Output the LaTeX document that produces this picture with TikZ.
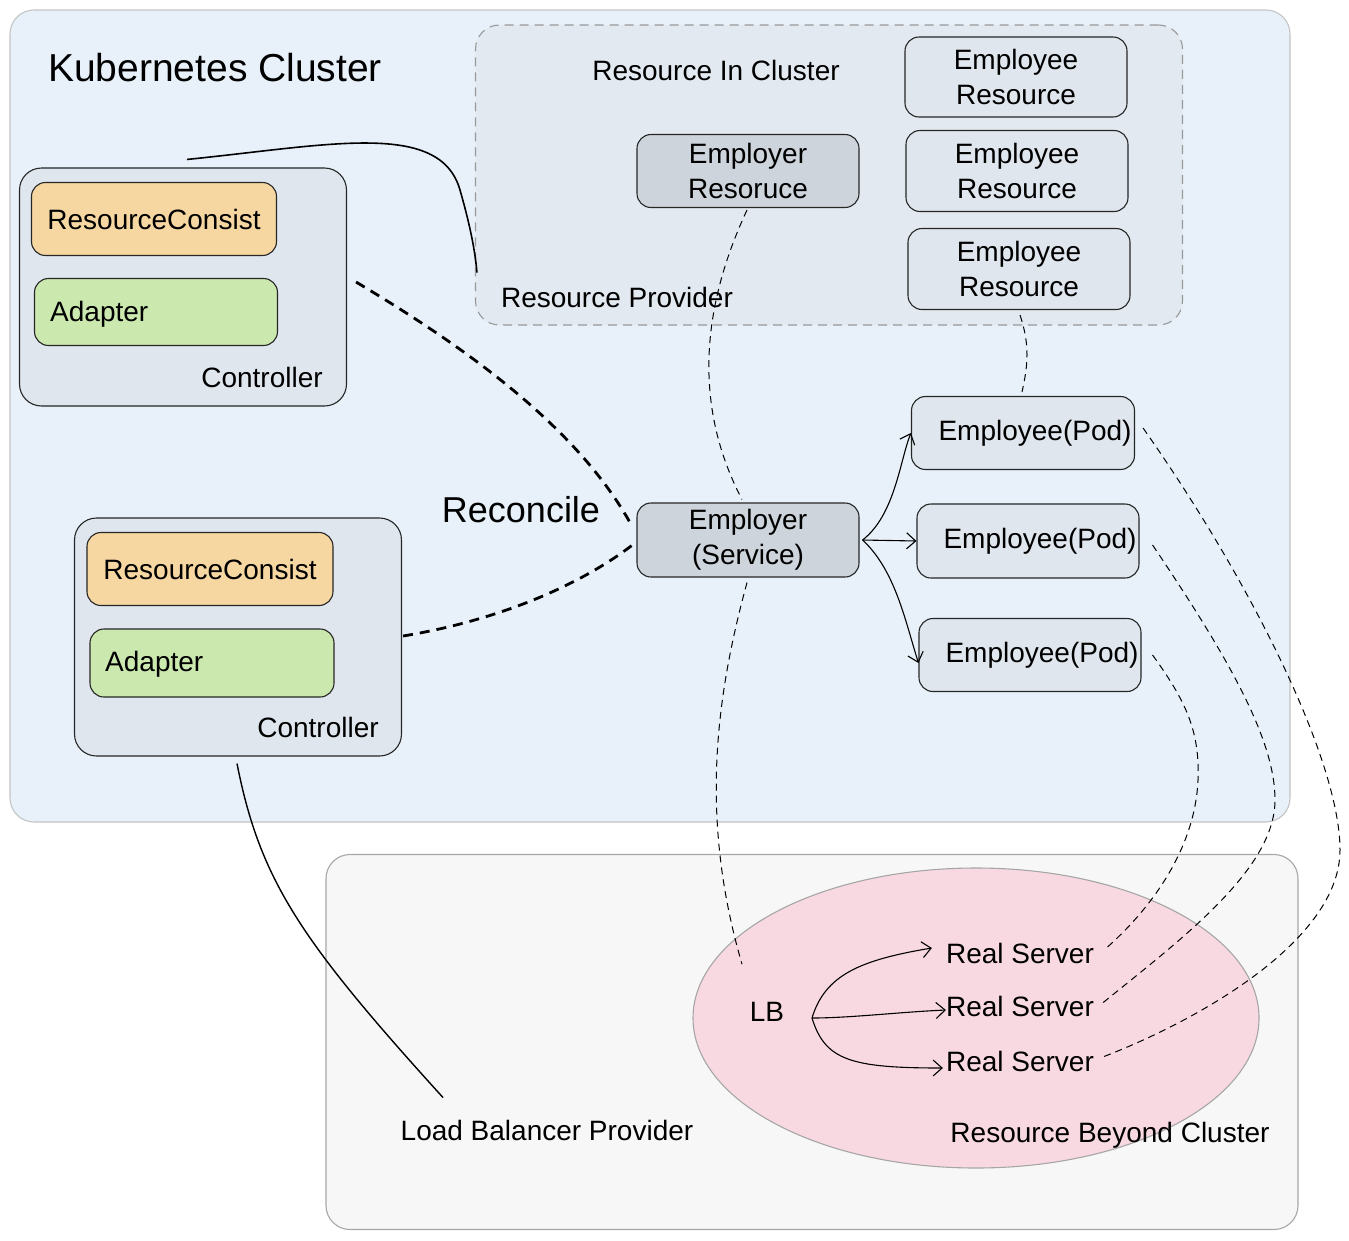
\documentclass[tikz,border=0pt]{standalone}
\usepackage{fontspec}
\setmainfont{Liberation Sans}
\usetikzlibrary{arrows.meta,shapes.geometric}
\definecolor{clusterfill}{HTML}{E8F1FA}
\definecolor{ripfill}{HTML}{E2E9F0}
\definecolor{boxfill}{HTML}{DFE6ED}
\definecolor{darkfill}{HTML}{CDD4DB}
\definecolor{orangefill}{HTML}{F6D7A2}
\definecolor{greenfill}{HTML}{CBE8AE}
\definecolor{lbpfill}{HTML}{F7F7F7}
\definecolor{pinkfill}{HTML}{F8D9E1}
\definecolor{frame}{HTML}{C4C4C4}
\begin{document}
\begin{tikzpicture}[x=1pt,y=-1pt,
  txt/.style={font=\fontsize{28}{35}\selectfont, inner sep=0pt, align=center},
  box/.style={draw=black!85, line width=1.1pt, rounded corners=14pt, fill=boxfill, inner sep=0pt, txt},
  area/.style={draw=frame, line width=1.1pt, rounded corners=24pt},
  conn/.style={draw=black, line width=1.1pt},
  thin dash/.style={draw=black, line width=1pt, dash pattern=on 7pt off 5pt},
  thick dash/.style={draw=black, line width=2.8pt, dash pattern=on 10pt off 7pt},
  arr/.style={conn, -{Straight Barb[length=9pt,width=16pt]}}
]
\useasboundingbox (0,0) rectangle (1349,1240);

% areas
\node[area, fill=clusterfill, minimum width=1280, minimum height=812] (cluster) at (650,416) {};
\node[area, fill=lbpfill, draw=black!35, minimum width=972, minimum height=375] (lbp) at (812,1042) {};
\node[area, draw=black!40, dash pattern=on 9pt off 6pt, fill=ripfill, minimum width=707, minimum height=300] (rip) at (829,175) {};
\node[ellipse, draw=black!35, line width=1.1pt, fill=pinkfill, minimum width=566, minimum height=300, inner sep=0pt] (beyond) at (976,1018) {};

% titles
\node[txt, font=\fontsize{39}{44}\selectfont] (ktitle) at (215,68) {Kubernetes Cluster};
\node[txt] (ric) at (716,70) {Resource In Cluster};
\node[txt] (rprov) at (617,297) {Resource Provider};
\node[txt, font=\fontsize{36}{42}\selectfont] (recon) at (521,510) {Reconcile};
\node[txt] (lbptxt) at (547,1130) {Load Balancer Provider};
\node[txt] (rbc) at (1110,1135) {Resource Beyond Cluster};

% controllers
\node[box, minimum width=327, minimum height=238, rounded corners=22pt] (ctrl1) at (183,287) {};
\node[box, fill=orangefill, minimum width=245, minimum height=73] (rc1) at (154,219) {ResourceConsist};
\node[box, fill=greenfill, minimum width=243, minimum height=67] (ad1) at (156,312) {};
\node[txt, anchor=west] (ad1t) at (50,314) {Adapter};
\node[txt] (ct1) at (262,377) {Controller};

\node[box, minimum width=327, minimum height=238, rounded corners=22pt] (ctrl2) at (238,637) {};
\node[box, fill=orangefill, minimum width=246, minimum height=73] (rc2) at (210,569) {ResourceConsist};
\node[box, fill=greenfill, minimum width=244, minimum height=68] (ad2) at (212,663) {};
\node[txt, anchor=west] (ad2t) at (105,664) {Adapter};
\node[txt] (ct2) at (318,727) {Controller};

% resources in cluster
\node[box, fill=darkfill, minimum width=222, minimum height=73] (er) at (748,171) {Employer\\Resoruce};
\node[box, minimum width=222, minimum height=80] (eres1) at (1016,77) {Employee\\Resource};
\node[box, minimum width=222, minimum height=81] (eres2) at (1017,171) {Employee\\Resource};
\node[box, minimum width=222, minimum height=81] (eres3) at (1019,269) {Employee\\Resource};

% service & pods
\node[box, fill=darkfill, minimum width=222, minimum height=74] (svc) at (748,540) {Employer\\(Service)};
\node[box, minimum width=223, minimum height=73] (pod1) at (1023,433) {};
\node[txt] (pod1t) at (1035,433) {Employee(Pod)};
\node[box, minimum width=222, minimum height=74] (pod2) at (1028,541) {};
\node[txt] (pod2t) at (1040,541) {Employee(Pod)};
\node[box, minimum width=222, minimum height=73] (pod3) at (1030,655) {};
\node[txt] (pod3t) at (1042,655) {Employee(Pod)};

% LB & real servers
\node[txt] (lb) at (767,1012) {LB};
\node[txt] (rs1) at (1020,953) {Real Server};
\node[txt] (rs2) at (1020,1006) {Real Server};
\node[txt] (rs3) at (1020,1061) {Real Server};
\coordinate (lbout) at (812,1018);

% solid connectors
\draw[conn, line width=1.6pt] ([shift={(4,-8)}]ctrl1.north) .. controls (330,145) and (440,120) .. (460,190) .. controls (470,225) and (475,250) .. ([shift={(2,-53)}]rip.south west);
\draw[conn, line width=1.4pt] ([shift={(-1,7)}]ctrl2.south) .. controls (260,880) and (300,940) .. ([shift={(-104,-22)}]lbptxt.north);

% reconcile
\draw[thick dash] ([shift={(9,-5)}]ctrl1.east) .. controls (470,350) and (580,430) .. ([shift={(-4,-13)}]svc.west);
\draw[thick dash] ([shift={(1,-1)}]ctrl2.east) .. controls (500,620) and (580,585) .. ([shift={(-4,5)}]svc.west);

% thin dashed
\draw[thin dash] ([shift={(-1,2)}]er.south) .. controls (705,300) and (690,400) .. ([shift={(-6,-3)}]svc.north);
\draw[thin dash] ([shift={(1,5)}]eres3.south) .. controls (1030,345) and (1028,365) .. ([shift={(-1,-4)}]pod1.north);
\draw[thin dash] ([shift={(-1,5)}]svc.south) .. controls (715,700) and (700,820) .. ([shift={(-25,-38)}]lb.north);
\draw[thin dash] ([shift={(8,-5)}]pod1.east) .. controls (1250,580) and (1340,760) .. (1340,850) .. controls (1340,940) and (1200,1020) .. ([shift={(6,-3)}]rs3.east);
\draw[thin dash] ([shift={(13,4)}]pod2.east) .. controls (1230,660) and (1275,740) .. (1275,800) .. controls (1275,870) and (1180,940) .. ([shift={(6,-1)}]rs2.east);
\draw[thin dash] ([shift={(11,0)}]pod3.east) .. controls (1185,700) and (1200,730) .. (1198,780) .. controls (1195,850) and (1150,910) .. ([shift={(10,-3)}]rs1.east);

% arrows service -> pods
\draw[arr] ([shift={(3,0)}]svc.east) .. controls (895,515) and (900,460) .. (pod1.west);
\draw[arr] ([shift={(3,0)}]svc.east) -- (pod2.west);
\draw[arr] ([shift={(3,0)}]svc.east) .. controls (895,570) and (905,620) .. ([shift={(0,8)}]pod3.west);

% arrows LB -> real servers
\draw[arr] (lbout) .. controls (825,975) and (860,960) .. ([shift={(-14,-5)}]rs1.west);
\draw[arr] (lbout) .. controls (850,1018) and (900,1012) .. ([shift={(0,4)}]rs2.west);
\draw[arr] (lbout) .. controls (825,1060) and (850,1068) .. ([shift={(-3,7)}]rs3.west);
\end{tikzpicture}
\end{document}
